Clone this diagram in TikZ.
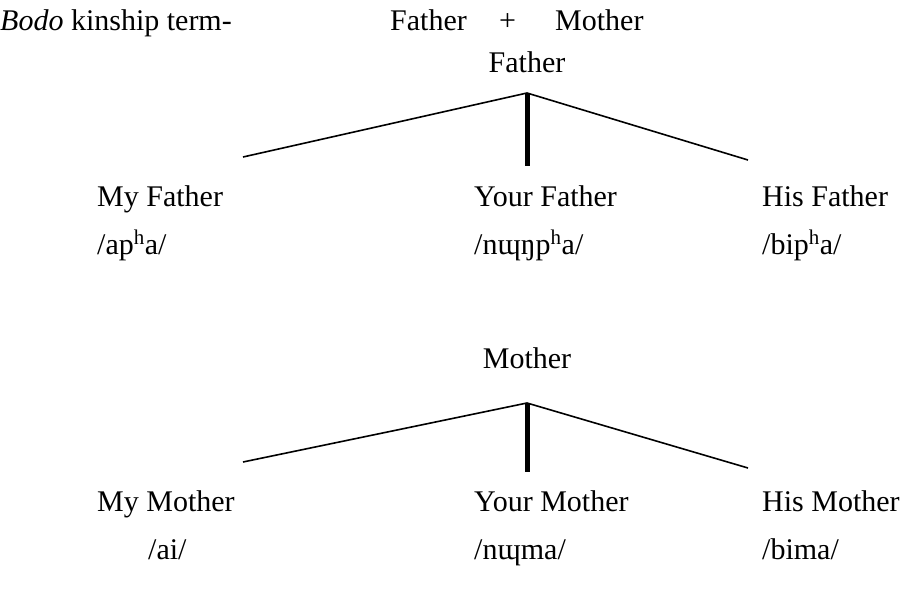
\documentclass[tikz,border=0pt]{standalone}
\usepackage{fontspec}
\setmainfont{Liberation Serif}
\begin{document}
\begin{tikzpicture}[x=1pt,y=-1pt,
  lbl/.style={anchor=base west,inner sep=0pt,font=\fontsize{30}{35}\selectfont},
  thin/.style={line width=1.6pt},
  stem/.style={line width=5pt}]
\useasboundingbox (0,0) rectangle (922,594);
% header
\node[lbl] (title) at (0,31) {\textit{Bodo} kinship term-};
\node[lbl] (hf) at (390,31) {Father};
\node[lbl] (plus) at (499,31) {+};
\node[lbl] (hm) at (555,31) {Mother};
% tree 1
\node[lbl,anchor=base] (f) at (527,73) {Father};
\coordinate (fa) at (527,93);
\coordinate (fl) at (243,157);
\coordinate (fr) at (748,160);
\coordinate (fb) at (527,166);
\draw[thin] (fl) -- (fa) -- (fr);
\draw[stem] (fa) -- (fb);
\node[lbl] (myf) at (97,206) {My Father};
\node[lbl] (yof) at (474,206) {Your Father};
\node[lbl] (hif) at (762,206) {His Father};
\node[lbl] (p1) at (97,254) {/ap\textsuperscript{h}a/};
\node[lbl] (p2) at (474,254) {/nɰŋp\textsuperscript{h}a/};
\node[lbl] (p3) at (762,254) {/bip\textsuperscript{h}a/};
% tree 2
\node[lbl,anchor=base] (m) at (527,368) {Mother};
\coordinate (ma) at (527,403);
\coordinate (ml) at (243,462);
\coordinate (mr) at (748,468);
\coordinate (mb) at (527,472);
\draw[thin] (ml) -- (ma) -- (mr);
\draw[stem] (ma) -- (mb);
\node[lbl] (mym) at (97,511) {My Mother};
\node[lbl] (yom) at (474,511) {Your Mother};
\node[lbl] (him) at (762,511) {His Mother};
\node[lbl] (q1) at (148,559) {/ai/};
\node[lbl] (q2) at (474,559) {/nɰma/};
\node[lbl] (q3) at (762,559) {/bima/};
\end{tikzpicture}
\end{document}
